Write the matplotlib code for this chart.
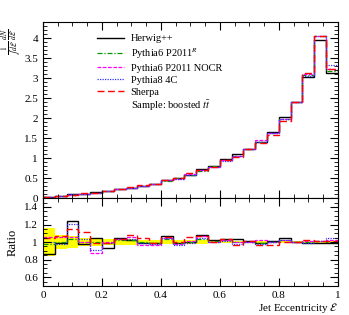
import numpy as np
import matplotlib
matplotlib.use("Agg")
import matplotlib.pyplot as plt
from matplotlib.ticker import MultipleLocator, FuncFormatter

plt.rcParams['font.family'] = ['Liberation Serif', 'DejaVu Serif']
plt.rcParams['mathtext.fontset'] = 'stix'
plt.rcParams['font.size'] = 8

# 25 bins in jet eccentricity
edges = np.linspace(0, 1, 26)

# normalised distributions (main panel)
herwig = [0.028, 0.051, 0.093, 0.107, 0.147, 0.168, 0.226, 0.255, 0.310, 0.358, 0.449, 0.495,
          0.590, 0.718, 0.806, 0.967, 1.102, 1.232, 1.399, 1.646, 2.027, 2.410, 3.039, 3.950, 3.122]
py6_r = [0.032, 0.052, 0.078, 0.110, 0.140, 0.178, 0.219, 0.255, 0.315, 0.356, 0.433, 0.495,
         0.590, 0.685, 0.798, 0.949, 1.065, 1.220, 1.406, 1.630, 1.969, 2.410, 3.070, 4.040, 3.170]
py6_nocr = [0.035, 0.055, 0.080, 0.110, 0.123, 0.180, 0.223, 0.265, 0.304, 0.347, 0.441, 0.488,
            0.596, 0.712, 0.790, 0.949, 1.065, 1.220, 1.448, 1.630, 1.969, 2.410, 3.100, 4.060, 3.230]
py8_4c = [0.033, 0.051, 0.091, 0.114, 0.127, 0.178, 0.221, 0.260, 0.312, 0.353, 0.441, 0.483,
          0.584, 0.698, 0.790, 0.939, 1.044, 1.220, 1.392, 1.630, 1.969, 2.410, 3.040, 4.040, 3.330]
sherpa = [0.035, 0.056, 0.086, 0.122, 0.138, 0.177, 0.224, 0.271, 0.331, 0.356, 0.445, 0.500,
          0.625, 0.712, 0.790, 0.958, 1.028, 1.232, 1.370, 1.581, 1.930, 2.410, 3.130, 4.040, 3.220]

# ratio panel
r_herwig = [0.86, 0.985, 1.235, 0.975, 1.05, 0.935, 1.05, 1.02, 0.985, 0.995, 1.07, 0.99,
            1.0, 1.08, 1.02, 1.04, 1.035, 1.01, 0.985, 1.01, 1.05, 1.0, 0.99, 0.985, 0.985]
r_py6_r = [0.98, 1.0, 1.04, 1.0, 1.0, 0.99, 1.02, 1.02, 1.0, 0.99, 1.03, 0.99,
           1.0, 1.03, 1.01, 1.02, 1.0, 1.0, 0.99, 1.0, 1.02, 1.0, 1.0, 1.01, 1.0]
r_py6_nocr = [1.06, 1.06, 1.06, 1.0, 0.88, 1.0, 1.035, 1.06, 0.965, 0.965, 1.05, 0.975,
              1.01, 1.07, 1.0, 1.02, 1.0, 1.0, 1.02, 1.0, 1.02, 1.0, 1.01, 1.015, 1.02]
r_py8_4c = [1.0, 0.98, 1.21, 1.035, 0.91, 0.99, 1.03, 1.04, 0.99, 0.98, 1.05, 0.965,
            0.99, 1.05, 1.0, 1.01, 0.98, 1.0, 0.98, 1.0, 1.02, 1.0, 0.99, 1.01, 1.05]
r_sherpa = [1.05, 1.07, 1.145, 1.11, 0.985, 0.985, 1.04, 1.085, 1.05, 0.99, 1.06, 1.0,
            1.06, 1.07, 1.0, 1.03, 0.965, 1.01, 0.965, 0.97, 1.0, 1.0, 1.02, 1.01, 1.015]
band = [0.155, 0.08, 0.07, 0.05, 0.04, 0.035, 0.03, 0.03, 0.025, 0.025, 0.02, 0.02,
        0.02, 0.018, 0.016, 0.015, 0.014, 0.013, 0.012, 0.011, 0.01, 0.01, 0.009, 0.008, 0.009]

labels = ['Herwig++', r'Pythia6 P2011$^{R}$', 'Pythia6 P2011 NOCR', 'Pythia8 4C', 'Sherpa']
styles = [dict(color='black', ls='-', lw=1.0),
          dict(color='#009900', ls=(0, (4, 1.5, 1, 1.5)), lw=0.9),
          dict(color='#ff00ff', ls=(0, (3, 1.2)), lw=0.9),
          dict(color='#3333ff', ls=(0, (1, 1)), lw=0.9),
          dict(color='#ff0000', ls=(0, (5, 2.5)), lw=1.0)]
mains = [herwig, py6_r, py6_nocr, py8_4c, sherpa]
ratios = [r_herwig, r_py6_r, r_py6_nocr, r_py8_4c, r_sherpa]

fig = plt.figure(figsize=(3.49, 3.15), dpi=100)
ax = fig.add_axes([0.123, 0.371, 0.845, 0.559])
axr = fig.add_axes([0.123, 0.092, 0.845, 0.279], sharex=ax)

handles = []
for vals, st, lab in zip(mains, styles, labels):
    ax.stairs(vals, edges, baseline=None, **st)
    h, = ax.plot([], [], label=lab, **st)
    handles.append(h)

band = np.array(band)
axr.stairs(1 + band, edges, baseline=1 - band, fill=True, color='#ffff00', lw=0)
for vals, st in zip(ratios, styles):
    axr.stairs(vals, edges, baseline=None, **st)

fmt = FuncFormatter(lambda v, p: '%g' % v)
for a in (ax, axr):
    a.tick_params(which='both', direction='in', top=True, right=True, labelsize=8)
    a.tick_params(which='major', length=6)
    a.tick_params(which='minor', length=3)
    a.xaxis.set_major_locator(MultipleLocator(0.2))
    a.xaxis.set_minor_locator(MultipleLocator(0.05))
    a.yaxis.set_major_formatter(fmt)
    a.xaxis.set_major_formatter(fmt)

ax.set_xlim(0, 1)
ax.set_ylim(0, 4.4)
ax.yaxis.set_major_locator(MultipleLocator(0.5))
ax.yaxis.set_minor_locator(MultipleLocator(0.1))
ax.tick_params(labelbottom=False)

axr.set_ylim(0.5, 1.5)
axr.yaxis.set_major_locator(MultipleLocator(0.2))
axr.yaxis.set_minor_locator(MultipleLocator(0.05))

ax.set_ylabel(r'$\frac{1}{\int\,d\mathcal{E}}\,\frac{dN}{d\mathcal{E}}$', fontsize=8)
ax.yaxis.set_label_coords(-0.068, 0.89)
axr.set_ylabel('Ratio', fontsize=9)
axr.set_xlabel(r'Jet Eccentricity $\mathcal{E}$', fontsize=8)
axr.xaxis.set_label_coords(1.0, -0.175)
axr.xaxis.label.set_ha('right')

ax.legend(handles=handles, loc='upper left', bbox_to_anchor=(0.17, 0.955), frameon=False,
          fontsize=7.5, handlelength=2.6, handletextpad=0.6, labelspacing=0.25, borderaxespad=0)
ax.text(0.30, 0.523, r'Sample: boosted $t\bar{t}$', transform=ax.transAxes,
        fontsize=7.5, va='center', ha='left')

fig.savefig('out.png', dpi=100)
